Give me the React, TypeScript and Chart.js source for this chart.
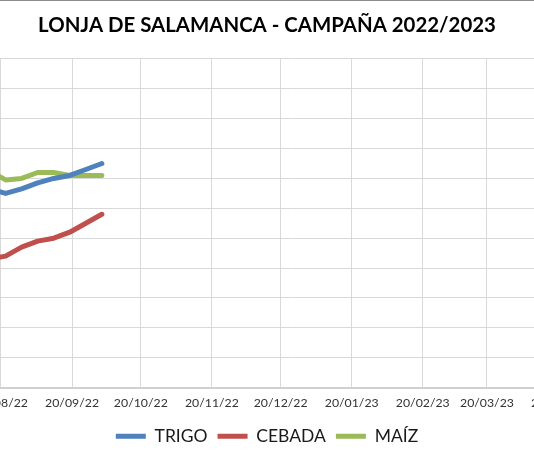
import React, { useEffect, useRef } from "react";
import { Chart, registerables } from "chart.js";

Chart.register(...registerables);

// ---- data (dates dd/mm/yy, prices €/t) ----
const sessionDates = ["15/08/22", "22/08/22", "29/08/22", "05/09/22", "12/09/22", "19/09/22", "26/09/22", "03/10/22"];
const trigo = [333, 330, 333, 337, 340, 342, 346, 350];
const cebada = [286, 288, 294, 298, 300, 304, 310, 316];
const maiz = [345, 339, 340, 344, 344, 342, 342, 342];
const tickLabels = ["20/08/22", "20/09/22", "20/10/22", "20/11/22", "20/12/22", "20/01/23", "20/02/23", "20/03/23", "20/04/23"];
const axisStart = "01/08/22";
const axisEnd = "20/05/23";
const yMin = 200;
const yMax = 420;
const yStep = 20;

const toDay = (s: string) => {
  const [d, m, y] = s.split("/").map(Number);
  return Date.UTC(2000 + y, m - 1, d) / 86400000;
};

const W = 740;
const H = 462;
const SHIFT = 103;
const PAD = 10.2;

export default function App() {
  const ref = useRef<HTMLCanvasElement | null>(null);
  useEffect(() => {
    if (!ref.current) return;
    const xs = sessionDates.map(toDay);
    const tickDays = tickLabels.map(toDay);
    const mk = (label: string, vals: number[], color: string) => ({
      label,
      data: vals.map((v, i) => ({ x: xs[i], y: v })),
      borderColor: color,
      backgroundColor: color,
      borderWidth: 5,
      borderCapStyle: "round" as const,
      borderJoinStyle: "round" as const,
      pointRadius: 0,
      tension: 0,
      pointStyle: "line" as const,
    });
    const chart = new Chart(ref.current, {
      type: "line",
      data: {
        datasets: [
          mk("TRIGO", trigo, "#4F81BD"),
          mk("CEBADA", cebada, "#C0504D"),
          mk("MAÍZ", maiz, "#9BBB59"),
        ],
      },
      options: {
        responsive: false,
        animation: false,
        devicePixelRatio: window.devicePixelRatio || 1,
        layout: { padding: { left: PAD, right: PAD, top: 0, bottom: 7 } },
        scales: {
          x: {
            type: "linear",
            min: toDay(axisStart),
            max: toDay(axisEnd),
            afterBuildTicks: (scale: any) => {
              scale.ticks = tickDays.map((v) => ({ value: v }));
            },
            afterFit: (scale: any) => {
              scale.height = 30;
            },
            ticks: {
              autoSkip: false,
              maxRotation: 0,
              padding: 8,
              color: "#333333",
              font: { family: "Lato", size: 12.3 },
              callback: (v: any) => {
                const i = tickDays.indexOf(Number(v));
                return i >= 0 ? tickLabels[i] : "";
              },
            },
            grid: { color: "#d9d9d9", lineWidth: 1, drawTicks: false },
            border: { color: "#d0d0d0", width: 2 },
          },
          y: {
            min: yMin,
            max: yMax,
            afterFit: (scale: any) => {
              scale.width = 50.24;
            },
            ticks: {
              stepSize: yStep,
              color: "#333333",
              font: { family: "Lato", size: 12 },
            },
            grid: { color: "#d9d9d9", lineWidth: 1, drawTicks: false },
            border: { color: "#d0d0d0", width: 1 },
          },
        },
        plugins: {
          title: {
            display: true,
            text: "LONJA DE SALAMANCA - CAMPAÑA 2022/2023",
            color: "#000000",
            font: { family: "Lato", size: 20.4, weight: "bold", lineHeight: 1.2 },
            padding: { top: 12.8, bottom: 21.7 },
          },
          legend: {
            position: "bottom",
            labels: {
              usePointStyle: true,
              pointStyleWidth: 30,
              padding: 10,
              color: "#1a1a1a",
              font: { family: "Lato", size: 17.5 },
            },
          },
          tooltip: { enabled: false },
        },
      },
    });
    return () => chart.destroy();
  }, []);

  return (
    <div
      style={{
        position: "fixed",
        left: 0,
        top: 0,
        width: 534,
        height: 462,
        overflow: "hidden",
        background: "#ffffff",
      }}
    >
      <div style={{ position: "absolute", left: -SHIFT, top: 0, width: W, height: H }}>
        <canvas ref={ref} width={W} height={H} style={{ width: W, height: H, display: "block" }} />
      </div>
      <div
        style={{
          position: "absolute",
          left: 0,
          top: 0,
          width: 534,
          height: 0,
          borderTop: "1px solid #8c8c8c",
        }}
      />
    </div>
  );
}
